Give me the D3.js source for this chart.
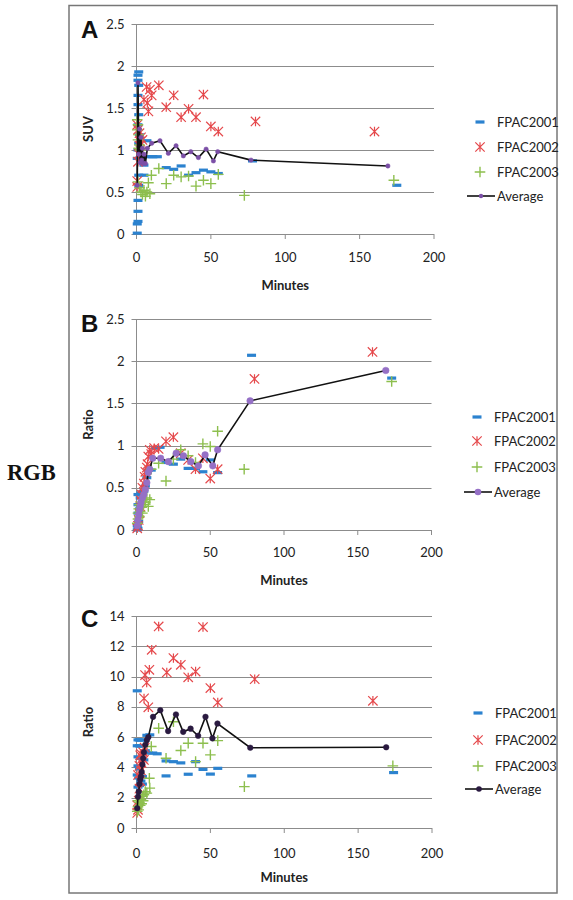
<!DOCTYPE html>
<html>
<head>
<meta charset="utf-8">
<script src="https://cdn.jsdelivr.net/npm/d3@7"></script>
<style>
  html, body { margin: 0; padding: 0; background: #fff; }
  svg { display: block; }
</style>
</head>
<body>
<svg id="chart" width="573" height="900"></svg>
<script>
// ---------------- DATA ----------------
const seriesNames = ["FPAC2001", "FPAC2002", "FPAC2003", "Average"];
const xTicks = [0, 50, 100, 150, 200];
const ticksA = [0, 0.5, 1, 1.5, 2, 2.5];
const ticksB = [0, 0.5, 1, 1.5, 2, 2.5];
const ticksC = [0, 2, 4, 6, 8, 10, 12, 14];

// Panel A (SUV): [minutes, value]
const a2001 = [[0.5,0.01],[0.5,0.12],[1,0.15],[1,0.27],[1,0.40],[1.5,0.58],[1.5,0.70],[0.5,0.90],[1,1.00],[1.5,1.08],[2,1.18],[1,1.30],[1.5,1.42],[1,1.54],[1,1.65],[1.5,1.77],[1,1.83],[1,1.89],[1.5,1.93],
  [5,0.82],[5,0.70],[7,1.11],[8,0.92],[11,0.92],[14,0.92],[20,0.79],[25,0.77],[30,0.81],[35,0.70],[40,0.73],[45,0.76],[50,0.74],[55,0.72],[78,0.87],[175,0.58]];
const a2002 = [[0.5,0.56],[0.5,0.63],[1,0.86],[1.5,0.95],[2,1.05],[2.5,1.10],[3,1.15],[1,1.24],[0.5,1.30],[2,1.20],[3.5,0.98],[4,1.12],
  [5,1.60],[6.8,1.75],[7.3,1.56],[8,1.46],[9,1.72],[10.2,1.65],[15,1.77],[20,1.51],[25,1.65],[30,1.39],[35,1.49],[40,1.39],[45,1.66],[50,1.28],[55,1.22],[80,1.34],[160,1.22]];
const a2003 = [[0.5,1.36],[1,1.30],[0.5,1.24],[1.5,1.18],[1,1.12],[2,1.06],[1.5,1.02],[2.5,1.00],
  [1,0.62],[2,0.55],[3,0.50],[4,0.47],[5,0.52],[6,0.45],[7,0.50],[8,0.61],[9,0.48],[10,0.70],[15,0.78],[20,0.60],[25,0.70],[30,0.68],[35,0.69],[40,0.57],[45,0.64],[50,0.60],[55,0.71],[72.5,0.46],[173,0.64]];
const aAvg = [[0.5,0.58],[1,1.80],[1.5,0.95],[2,1.25],[2.5,0.85],[3,1.15],[3.5,0.88],[4,1.02],[4.5,0.84],[5,0.95],[6,0.84],[7.3,1.02],[10.2,1.08],[15.8,1.11],[21.4,0.96],[26.6,1.05],[31.5,0.93],[36.5,0.98],[41.6,0.91],[46.8,1.01],[51.7,0.87],[54.6,0.98],[77,0.88],[169,0.81]];

// Panel B (Ratio)
const b2001 = [[0.5,0.00],[1,0.02],[0.5,0.05],[1.5,0.10],[1,0.20],[2,0.25],[1,0.30],[2.5,0.38],[1,0.42],[3,0.44],[4,0.45],[5,0.46],[6,0.52],[7,0.62],[8,0.71],[10,0.71],[13,0.97],[16,0.98],
  [20,0.80],[25,0.78],[30,0.84],[35,0.73],[40,0.73],[45,0.69],[50,0.83],[55,0.68],[78,2.07],[173,1.80]];
const b2002 = [[0.5,0.02],[1,0.05],[1.5,0.12],[2,0.20],[2.5,0.28],[3,0.35],[3.5,0.42],[4,0.50],[5,0.55],[5.5,0.63],[6,0.69],[7,0.74],[7.5,0.78],[8,0.87],[9,0.95],[10,0.90],[12,0.97],[15,0.96],
  [20,1.05],[25,1.10],[30,0.91],[35,0.83],[40,0.72],[45,0.85],[50,0.61],[55,0.72],[80,1.79],[160,2.11]];
const b2003 = [[0.5,0.08],[1,0.13],[1,0.20],[1.5,0.25],[2,0.16],[2,0.30],[2.5,0.22],[3,0.33],[3.5,0.27],[4,0.20],[4.5,0.30],[5,0.36],[6,0.33],[7,0.38],[8,0.28],[9,0.36],[10,0.72],[15,0.79],
  [20,0.58],[25,0.84],[30,0.95],[35,0.88],[40,0.80],[45,1.02],[50,0.99],[55,1.17],[73,0.72],[173,1.76]];
const bAvg = [[0.5,0.05],[1,0.12],[1.5,0.18],[2,0.24],[2.5,0.28],[3,0.33],[4,0.38],[5,0.42],[6,0.48],[7,0.56],[8,0.68],[9,0.72],[11,0.85],[16.4,0.85],[21.6,0.81],[26.9,0.91],[31.8,0.88],[36.8,0.81],[42,0.76],[46.5,0.89],[51.7,0.76],[55,0.95],[77,1.53],[169,1.89]];

// Panel C (Ratio)
const c2001 = [[0.5,9.06],[1,5.82],[2,5.82],[3,5.80],[0.5,5.43],[2,5.43],[3.5,5.40],[7,6.12],[9,6.15],[1,4.70],[2.5,4.60],[1,4.10],[2,3.90],[0.5,3.50],[1.5,3.30],[3,3.10],[1,2.70],[2,2.80],[4,3.40],[5,4.50],[6,5.10],[8,4.95],[11,4.95],[14,4.90],[4,2.90],
  [20,4.43],[25,4.38],[30,4.30],[20,3.44],[35,3.55],[40,4.38],[45,3.87],[50,3.56],[55,3.94],[78,3.44],[174,3.66]];
const c2002 = [[0.5,1.00],[1,1.20],[0.5,1.50],[1.5,1.80],[2,2.60],[2.5,3.10],[1,3.50],[3,3.80],[2,4.10],[3.5,4.30],[4,4.60],[2.5,4.80],[4.5,5.00],[5,4.50],[3,4.90],[5.5,5.30],
  [5.1,8.56],[5.8,10.10],[6.9,9.60],[8,7.97],[8.7,10.45],[10.3,11.77],[15,13.31],[20.5,10.27],[25,11.22],[30,10.78],[35,9.95],[40,10.33],[45,13.27],[50,9.24],[55,8.29],[80,9.83],[160,8.40]];
const c2003 = [[0.5,1.10],[1,1.40],[1.5,1.20],[2,1.70],[2.5,1.50],[3,1.90],[1,1.80],[3.5,1.60],[4,2.10],[4.5,1.80],[5,2.20],[6,2.40],[7,2.30],[8.7,3.29],[9,2.63],[10,5.38],
  [15,6.59],[20,4.61],[25,7.02],[30,5.12],[35,5.60],[40,4.38],[45,5.60],[50,4.83],[55,5.77],[73,2.73],[173.5,4.10]];
const cAvg = [[0.5,1.30],[1,2.06],[1.5,2.40],[2,2.90],[2.5,3.20],[3,3.40],[3.5,3.70],[4,4.20],[4.5,4.60],[5,5.00],[6,5.50],[7,5.80],[8,6.00],[11.2,7.34],[16.1,7.78],[21.4,6.40],[26.7,7.50],[31.6,6.35],[36.6,6.56],[41.7,6.09],[46.7,7.34],[51.4,5.92],[54.8,6.90],[77,5.30],[169,5.33]];

// ---------------- STYLE / LAYOUT ----------------
const COL_BLUE = "#2B82CF";
const COL_RED = "#E5484B";
const COL_GREEN = "#8DBF4E";
const COL_GRID = "#8C8C8C";
const FONT = "Lato, 'Open Sans', sans-serif";

const panels = [
  { letter: "A", ylabel: "SUV", ticks: ticksA, ymax: 2.5, fmt: d => String(d),
    x0: 136.5, x1: 434, yTop: 24, yBot: 234, tickBase: 262, titleBase: 290,
    legendY: [122, 147, 172, 196], legendX: 480,
    data: [a2001, a2002, a2003], avg: aAvg, avgFill: "#7B4FA6", avgR: 2.2 },
  { letter: "B", ylabel: "Ratio", ticks: ticksB, ymax: 2.5, fmt: d => String(d),
    x0: 136.5, x1: 431.5, yTop: 319, yBot: 530, tickBase: 557, titleBase: 585,
    legendY: [417, 441, 467, 492], legendX: 477,
    data: [b2001, b2002, b2003], avg: bAvg, avgFill: "#9570C6", avgR: 3.3 },
  { letter: "C", ylabel: "Ratio", ticks: ticksC, ymax: 14, fmt: d => String(d),
    x0: 136.5, x1: 432, yTop: 616, yBot: 828, tickBase: 858, titleBase: 882,
    legendY: [713, 740, 766, 789], legendX: 478,
    data: [c2001, c2002, c2003], avg: cAvg, avgFill: "#2A1A40", avgR: 2.8 }
];

const svg = d3.select("#chart");

// outer frame
svg.append("rect").attr("x", 69).attr("y", 5.5).attr("width", 488).attr("height", 887.5)
  .attr("fill", "none").attr("stroke", "#777").attr("stroke-width", 1.5);

// RGB label
svg.append("text").attr("x", 7).attr("y", 480)
  .attr("font-family", "'Liberation Serif', 'DejaVu Serif', serif")
  .attr("font-weight", "bold").attr("font-size", 22.5).attr("fill", "#111").text("RGB");

// marker drawers
function drawDash(g, x, y) {
  g.append("rect").attr("x", x - 4.5).attr("y", y - 1.6).attr("width", 9).attr("height", 3.2).attr("fill", COL_BLUE);
}
function drawStar(g, x, y) {
  const s = 4.7;
  g.append("path")
    .attr("d", `M${x - s},${y - s}L${x + s},${y + s}M${x - s},${y + s}L${x + s},${y - s}M${x},${y - s}L${x},${y + s}`)
    .attr("stroke", COL_RED).attr("stroke-width", 1.2).attr("fill", "none");
}
function drawPlus(g, x, y) {
  const s = 5.3;
  g.append("path")
    .attr("d", `M${x - s},${y}L${x + s},${y}M${x},${y - s}L${x},${y + s}`)
    .attr("stroke", COL_GREEN).attr("stroke-width", 1.4).attr("fill", "none");
}
const drawers = [drawDash, drawStar, drawPlus];

panels.forEach(p => {
  const g = svg.append("g");
  const x = d3.scaleLinear().domain([0, 200]).range([p.x0, p.x1]);
  const y = d3.scaleLinear().domain([0, p.ymax]).range([p.yBot, p.yTop]);

  // gridlines (y)
  g.append("g").selectAll("line").data(p.ticks).join("line")
    .attr("x1", p.x0 - 5).attr("x2", p.x1)
    .attr("y1", d => Math.round(y(d)) + 0.5).attr("y2", d => Math.round(y(d)) + 0.5)
    .attr("stroke", COL_GRID).attr("stroke-width", 1);

  // y axis line
  g.append("line").attr("x1", p.x0).attr("x2", p.x0).attr("y1", p.yTop).attr("y2", p.yBot)
    .attr("stroke", COL_GRID).attr("stroke-width", 1);

  // x axis ticks
  g.append("g").selectAll("line").data(xTicks).join("line")
    .attr("x1", d => x(d)).attr("x2", d => x(d))
    .attr("y1", p.yBot).attr("y2", p.yBot + 5)
    .attr("stroke", COL_GRID).attr("stroke-width", 1);

  // y tick labels
  g.append("g").selectAll("text").data(p.ticks).join("text")
    .attr("x", p.x0 - 12).attr("y", d => y(d) + 4.5)
    .attr("text-anchor", "end").attr("font-family", FONT).attr("font-size", 13).attr("fill", "#222")
    .text(p.fmt);

  // x tick labels
  g.append("g").selectAll("text").data(xTicks).join("text")
    .attr("x", d => x(d)).attr("y", p.tickBase)
    .attr("text-anchor", "middle").attr("font-family", FONT).attr("font-size", 13).attr("fill", "#222")
    .text(d => d);

  // axis titles
  g.append("text").attr("x", (p.x0 + p.x1) / 2).attr("y", p.titleBase)
    .attr("text-anchor", "middle").attr("font-family", FONT).attr("font-weight", "bold")
    .attr("font-size", 13).attr("fill", "#222").text("Minutes");
  const yc = (p.yTop + p.yBot) / 2;
  g.append("text").attr("transform", `translate(93,${yc}) rotate(-90)`)
    .attr("text-anchor", "middle").attr("font-family", FONT).attr("font-weight", "bold")
    .attr("font-size", 13).attr("fill", "#222").text(p.ylabel);

  // panel letter
  g.append("text").attr("x", 81).attr("y", p.yTop + 14 + (p.letter === "A" ? 0 : (p.letter === "B" ? -1 : -3)))
    .attr("font-family", "'Liberation Sans', Arial, sans-serif").attr("font-weight", "bold")
    .attr("font-size", 24).attr("fill", "#111").text(p.letter);

  // scatter series
  p.data.forEach((series, i) => {
    const sg = g.append("g");
    series.forEach(d => drawers[i](sg, x(d[0]), y(d[1])));
  });

  // average line + markers
  const line = d3.line().x(d => x(d[0])).y(d => y(d[1]));
  g.append("path").datum(p.avg).attr("d", line)
    .attr("fill", "none").attr("stroke", "#111").attr("stroke-width", 1.6);
  g.append("g").selectAll("circle").data(p.avg).join("circle")
    .attr("cx", d => x(d[0])).attr("cy", d => y(d[1])).attr("r", p.avgR)
    .attr("fill", p.avgFill).attr("stroke", p.avgFill).attr("stroke-width", 0.5);

  // legend
  const lg = g.append("g");
  seriesNames.forEach((name, i) => {
    const ly = p.legendY[i];
    if (i < 3) {
      drawers[i](lg, p.legendX, ly);
    } else {
      lg.append("line").attr("x1", p.legendX - 13).attr("x2", p.legendX + 15)
        .attr("y1", ly).attr("y2", ly).attr("stroke", "#111").attr("stroke-width", 1.6);
      lg.append("circle").attr("cx", p.legendX + 1).attr("cy", ly).attr("r", p.avgR)
        .attr("fill", p.avgFill);
    }
    lg.append("text").attr("x", p.legendX + 17).attr("y", ly + 4.5)
      .attr("font-family", FONT).attr("font-size", 13).attr("fill", "#222").text(name);
  });
});
</script>
</body>
</html>
